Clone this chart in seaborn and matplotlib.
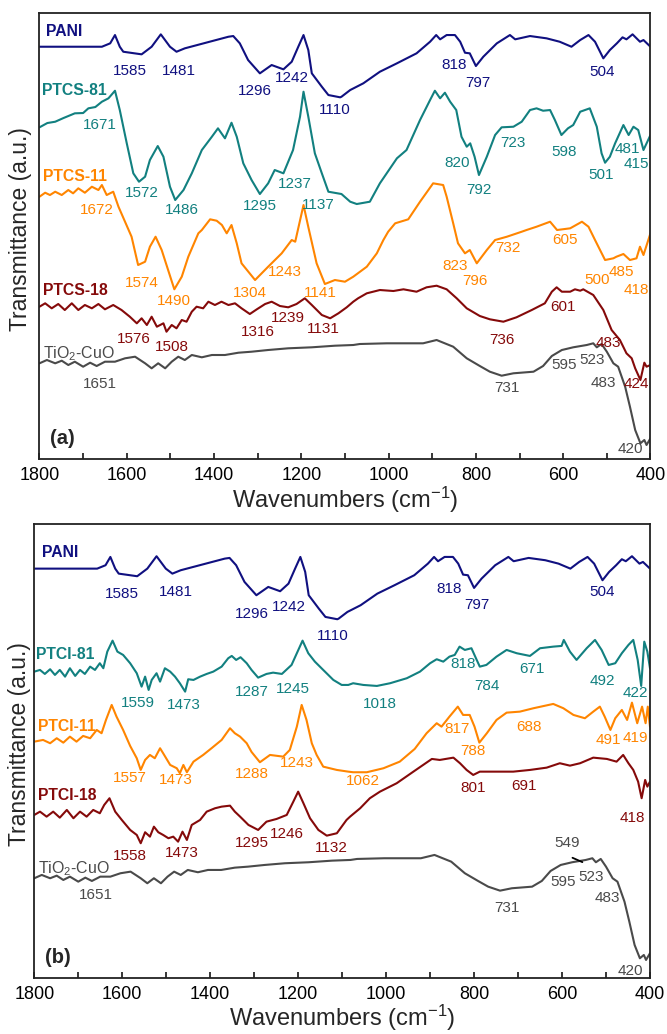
import numpy as np
import pandas as pd
import matplotlib
matplotlib.use("Agg")
import matplotlib.pyplot as plt
import seaborn as sns
from matplotlib.ticker import MultipleLocator

# ---------------- data (wavenumber cm-1, transmittance a.u.) ----------------
pani_w = [1800, 1657, 1638, 1627, 1616, 1608, 1566, 1543, 1522, 1501, 1486, 1467, 1367, 1356, 1341, 1322,
          1295, 1268, 1241, 1222, 1207, 1195, 1184, 1176, 1153, 1138, 1111, 1108, 1088, 1058, 1020, 981,
          936, 905, 891, 882, 867, 848, 836, 825, 814, 800, 783, 752, 722, 710, 676, 638, 608, 581, 561,
          542, 527, 508, 493, 477, 464, 455, 441, 424, 416, 400]
pani_t = [412.3, 412.3, 415.7, 424, 412.3, 407.3, 404.7, 412.3, 424.7, 412.3, 407.3, 410.7, 422.3, 423, 415.7, 399,
          385.7, 394, 389.7, 397.3, 412.3, 424, 409, 385.7, 372.3, 364, 361.7, 362.3, 369, 375.7, 387.3, 395.7,
          405.7, 417.3, 424, 419.7, 424, 424, 417.3, 406.3, 405.7, 393, 402.3, 415.7, 424, 419.7, 423, 420.7, 417.3, 412.3, 419,
          424, 417.3, 400.7, 409, 415.7, 421.7, 419.7, 424.7, 417.3, 419, 412.3]

ptcs81_w = [1800, 1782, 1764, 1745, 1719, 1700, 1688, 1672, 1657, 1642, 1627, 1616, 1600, 1585, 1572, 1558, 1547, 1529,
            1516, 1501, 1489, 1470, 1451, 1428, 1405, 1391, 1375, 1360, 1348, 1333, 1314, 1295, 1276, 1261,
            1241, 1219, 1203, 1195, 1184, 1169, 1153, 1138, 1108, 1088, 1073, 1043, 1020, 981, 959, 928, 905,
            894, 882, 871, 859, 845, 833, 821, 813, 803, 793, 775, 756, 741, 714, 695, 676, 661, 646, 630, 619,
            604, 589, 577, 561, 539, 523, 512, 504, 493, 481, 462, 450, 439, 428, 416, 400]
ptcs81_t = [331.7, 336, 337.3, 341, 345.7, 346, 350.7, 352, 357.3, 360.7, 368.3, 349, 315.7, 285.7, 277.3, 282.3, 299, 313,
            302.3, 272.3, 259, 269, 285.7, 309, 322.3, 330.7, 320.7, 336.3, 322.3, 295.7, 279, 265, 275.7, 289,
            285.7, 309, 342.3, 367.3, 342.3, 305.7, 285.7, 267.3, 265, 257.3, 255, 257.3, 275.7, 300.7, 309, 339, 359,
            368.3, 360.7, 366.3, 357.3, 349, 322.3, 312.3, 315.7, 302.3, 284, 302.3, 324, 331.7, 332.3, 337.3, 349, 350.7, 348.3, 349, 339,
            324, 330.7, 334, 347.3, 350.7, 332.3, 305.7, 296.3, 302.3, 315.7, 334, 324, 332.3, 329, 309, 324]

ptcs11_w = [1800, 1787, 1776, 1764, 1749, 1734, 1723, 1711, 1696, 1680, 1665, 1657, 1646, 1631, 1619, 1589, 1574, 1558,
            1547, 1534, 1520, 1491, 1474, 1459, 1436, 1428, 1409, 1394, 1382, 1371, 1360, 1348, 1337, 1306, 1276,
            1245, 1222, 1214, 1195, 1184, 1165, 1146, 1123, 1100, 1081, 1050, 1027, 1012, 1001, 985, 955, 928,
            898, 875, 867, 852, 841, 825, 814, 798, 775, 756, 729, 695, 684, 661, 630, 614, 584, 557, 542, 527,
            504, 485, 478, 462, 447, 432, 424, 416, 400]
ptcs11_t = [262.3, 266.3, 264, 267.3, 264, 269, 265.7, 270.7, 266.3, 272.3, 269, 274, 264, 267.3, 252.3, 222.3, 194, 197.3,
            212.3, 222.3, 209, 169.7, 182.3, 202.3, 225.7, 229, 239.7, 238.3, 234, 225.7, 234, 215.7, 195.7, 179, 192.3,
            205.7, 219, 217.3, 254, 232, 195.7, 175, 179, 177.3, 182.3, 192.3, 205.7, 219, 227.3, 235.7, 239.7, 257.3,
            275.7, 274, 262.3, 235.7, 215.7, 205.7, 209, 195.7, 209, 219, 222.3, 227.3, 229, 232.3, 237.3, 229, 230.7, 237.3, 232.3, 219,
            199, 200.7, 202.3, 205, 199, 200.7, 212.3, 204, 225.7]

ptcs18_w = [1800, 1787, 1772, 1757, 1742, 1726, 1711, 1696, 1680, 1665, 1650, 1631, 1612, 1593, 1577, 1566, 1554,
            1543, 1531, 1516, 1509, 1497, 1486, 1474, 1463, 1451, 1440, 1425, 1413, 1398, 1383, 1367, 1352, 1337,
            1318, 1302, 1283, 1268, 1249, 1230, 1211, 1192, 1176, 1153, 1134, 1115, 1096, 1081, 1070, 1050, 1020,
            989, 966, 936, 913, 890, 867, 844, 821, 791, 768, 737, 707, 672, 642, 626, 615, 603, 584, 573, 561,
            554, 531, 508, 489, 470, 455, 443, 435, 423, 414, 409, 400]
ptcs18_t = [152.3, 155.7, 150.7, 155, 149, 155.7, 149, 154, 150.7, 155, 149.7, 154, 149, 142.3, 135.7, 140.7, 134,
            142.3, 132.3, 135.7, 127.3, 134, 130.7, 139, 137.3, 147.3, 152.3, 150.7, 157.3, 154, 157.3, 154, 155.7, 150.7,
            145, 149.7, 155, 157.3, 153, 151.7, 155, 160.7, 154, 144, 140.7, 145.7, 151.7, 157.3, 160.7, 165.7, 169,
            168, 169.7, 167.3, 171.7, 173.3, 169.7, 160.7, 150.7, 143, 139.7, 137.3, 141.7, 149, 155.7, 167.3, 171.7, 167.3, 167.3, 169.7, 168.3,
            169.7, 164, 149, 129, 119, 105.7, 100.7, 90.7, 79, 96.3, 92.3, 94]

tio2_w = [1800, 1783, 1764, 1749, 1734, 1719, 1700, 1684, 1669, 1650, 1627, 1604, 1581, 1558, 1543, 1528, 1512,
          1497, 1482, 1467, 1451, 1428, 1405, 1375, 1344, 1314, 1276, 1230, 1176, 1123, 1081, 1066, 1004, 921,
          890, 852, 821, 791, 768, 741, 714, 668, 646, 626, 603, 577, 546, 531, 523, 512, 500, 485, 474, 458,
          447, 435, 423, 414, 409, 400]
tio2_t = [95.7, 99, 95.7, 98.3, 94, 97.3, 92.3, 96.3, 93, 97.3, 97.3, 100.7, 102.3, 95.7, 90.7, 95.7, 90.7,
          97.3, 102.3, 99, 104, 101.7, 104, 104, 106.3, 107.3, 109, 110.7, 111.7, 113.3, 114, 115, 115.7, 115.7,
          119, 112.3, 100.7, 93, 87.3, 83.3, 85.7, 87.3, 93, 103, 109, 111.7, 114, 115.7, 111.7, 115, 107.3, 95.7, 92.3, 72.3,
          52.3, 29, 15.7, 19, 14, 20.7]

ptci81_w = [1800, 1787, 1776, 1764, 1753, 1742, 1730, 1719, 1707, 1696, 1685, 1673, 1662, 1651, 1643, 1634, 1622,
            1611, 1598, 1582, 1567, 1556, 1548, 1540, 1533, 1522, 1514, 1503, 1491, 1480, 1469, 1457, 1450, 1438,
            1423, 1408, 1393, 1374, 1359, 1351, 1341, 1331, 1317, 1306, 1291, 1272, 1257, 1237, 1215, 1203, 1190,
            1177, 1162, 1143, 1120, 1101, 1086, 1075, 1052, 1021, 991, 953, 923, 900, 885, 870, 856, 844, 833,
            821, 806, 794, 787, 772, 749, 726, 703, 673, 650, 620, 601, 596, 582, 567, 544, 525, 510, 494, 479,
            464, 449, 438, 428, 420, 413, 406, 400]
ptci81_t = [306.3, 308, 304, 308.7, 303, 308, 301.3, 309.7, 302, 308, 304, 311.3, 308, 314.7, 309.7, 326.3, 337.3,
            326.3, 323, 314.7, 304.7, 291.3, 301.3, 288, 298, 304.7, 296.3, 309.7, 306.3, 301.3, 294.7, 286.3, 298.7, 298,
            301.3, 304, 306.3, 311.3, 319.7, 322, 318, 320.7, 314.7, 308, 300.3, 304, 305.3, 304, 313, 324.7, 337.3,
            324.7, 316.3, 308, 298, 293, 293, 294.7, 293, 292, 294.7, 299.7, 306.3, 314.7, 318.7, 316.3, 321.3, 323, 331.3,
            328, 329.7, 318, 311.3, 313, 321.3, 328, 324.7, 322, 329.7, 331.3, 332, 338, 326.3, 318, 329.7, 338, 328, 313, 314.7,
            324.7, 333, 338, 318, 292, 336.3, 326.3, 309.7]

ptci11_w = [1800, 1780, 1764, 1749, 1734, 1719, 1704, 1689, 1673, 1658, 1647, 1637, 1624, 1613, 1598, 1582, 1567,
            1558, 1548, 1537, 1526, 1514, 1507, 1491, 1476, 1469, 1461, 1453, 1438, 1416, 1397, 1374, 1355, 1344,
            1332, 1317, 1306, 1287, 1264, 1234, 1219, 1203, 1192, 1181, 1169, 1158, 1143, 1112, 1086, 1075, 1044,
            1006, 969, 935, 908, 885, 874, 856, 837, 825, 810, 799, 788, 771, 749, 726, 696, 665, 620, 597, 574,
            548, 529, 514, 503, 490, 479, 464, 452, 441, 429, 418, 410, 405, 400]
ptci11_t = [236.3, 238, 234.7, 239.7, 235.3, 241.3, 236.3, 242, 239.7, 248, 244.7, 258, 273, 261.3, 248, 232, 219.7,
            208, 218, 223, 219.7, 229.7, 224.7, 213, 209.7, 204.7, 213, 205.7, 216.3, 223, 229.7, 238, 249.7, 244.7,
            241.3, 234.7, 226, 215.7, 223, 221.3, 228, 251.3, 273, 258, 234.7, 223, 211.3, 208, 206.3, 205.7, 205.7,
            209.7, 216.3, 229, 244.7, 254.7, 251.3, 261.3, 271.3, 263, 263, 251.3, 235.3, 244.7, 258, 265.3, 266.3, 269.7, 274, 269.7, 263,
            259.7, 266.3, 271.3, 261.3, 248, 259.7, 268, 258, 275.3, 254.7, 271.3, 254.7, 271.3, 251.3]

ptci18_w = [1800, 1787, 1772, 1757, 1742, 1726, 1711, 1696, 1681, 1666, 1651, 1641, 1629, 1616, 1601, 1582, 1567,
            1558, 1548, 1537, 1528, 1518, 1507, 1495, 1484, 1473, 1463, 1453, 1442, 1423, 1408, 1389, 1374, 1355,
            1344, 1332, 1313, 1291, 1272, 1249, 1226, 1211, 1200, 1188, 1173, 1154, 1135, 1112, 1090, 1082, 1059,
            1037, 1014, 976, 938, 896, 878, 847, 832, 817, 802, 787, 749, 711, 673, 635, 605, 582, 559, 529, 498,
            476, 461, 449, 438, 427, 419, 411, 406, 400]
ptci18_t = [163, 166.3, 161.3, 166.3, 160.3, 168, 159.7, 166.3, 161.3, 168, 164.7, 173, 179.7, 166.3, 158, 148, 143,
            134.7, 145.7, 141.3, 151.3, 145.7, 143, 139.7, 141.3, 136.3, 146.3, 138, 153, 158, 166.3, 169.7, 171.3, 172.3,
            166.3, 161.3, 153, 148, 156.3, 159, 163, 176.3, 186.3, 174.7, 159.7, 148, 142.3, 144.7, 158, 161.3, 169.7,
            179.7, 186.3, 194.7, 206.3, 219, 218, 220.3, 214.7, 208, 203, 206.3, 206.3, 206.3, 208, 210.3, 214.7, 212.3, 214.7, 220.3, 219,
            216.3, 223, 214.7, 208, 196.3, 179.7, 198, 191.3, 196.3]

# peak annotations: (text, wavenumber, transmittance)
ann_a = {
    "PANI": [("1585", 1593, 388.3), ("1481", 1480, 388.3), ("1296", 1306, 368), ("1242", 1222, 380.7),
             ("1110", 1123, 349), ("818", 850, 394), ("797", 795, 375.7), ("504", 510, 386.7)],
    "PTCS-81": [("1671", 1661, 334), ("1572", 1566, 265.7), ("1486", 1474, 249), ("1295", 1295, 253),
                ("1237", 1216, 275), ("1137", 1161, 254), ("820", 843, 295.7), ("792", 792, 269),
                ("723", 714, 315.7), ("598", 598, 307.3), ("501", 514, 284), ("481", 454, 309.7), ("415", 433, 295)],
    "PTCS-11": [("1672", 1669, 249), ("1574", 1566, 175.7), ("1490", 1491, 158.3), ("1304", 1318, 165.7),
                ("1243", 1237, 186.7), ("1141", 1157, 165.7), ("823", 848, 193), ("796", 802, 178.3),
                ("732", 726, 210.7), ("605", 596, 219), ("500", 522, 179), ("485", 466, 187.3), ("418", 433, 169)],
    "PTCS-18": [("1576", 1585, 119.7), ("1508", 1496, 111.7), ("1316", 1300, 127.3), ("1239", 1230, 140.7),
                ("1131", 1150, 129.7), ("736", 740, 119), ("601", 601, 151.7), ("483", 497, 116.3), ("424", 433, 75)],
    "TiO2-CuO": [("1651", 1661, 75), ("731", 728, 70.7), ("595", 598, 94), ("523", 533, 99),
                 ("483", 509, 76.3), ("420", 445, 9.7)],
}
ann_b = {
    "PANI": [("1585", 1601, 384), ("1481", 1478, 386.3), ("1296", 1306, 363.7), ("1242", 1222, 370.7),
             ("1110", 1122, 342), ("818", 856, 389), ("797", 793, 373), ("504", 508, 386.3)],
    "PTCI-81": [("1559", 1564, 274.7), ("1473", 1460, 273), ("1287", 1306, 286.3), ("1245", 1211, 288.7),
                ("1018", 1014, 274), ("818", 826, 314), ("784", 770, 292.3), ("671", 669, 309),
                ("492", 508, 297.3), ("422", 434, 284.7)],
    "PTCI-11": [("1557", 1582, 199.7), ("1473", 1478, 198), ("1288", 1306, 203.7), ("1243", 1203, 214.7),
                ("1062", 1053, 197), ("817", 838, 248.7), ("788", 802, 227), ("688", 674, 251.3),
                ("491", 495, 238), ("419", 434, 239.7)],
    "PTCI-18": [("1558", 1582, 122), ("1473", 1465, 125.3), ("1295", 1306, 134.7), ("1246", 1225, 143.7),
                ("1132", 1124, 130.3), ("801", 802, 189.7), ("691", 687, 192.3), ("418", 440, 160.3)],
    "TiO2-CuO": [("1651", 1660, 83), ("731", 726, 70.3), ("549", 588, 134.7), ("595", 597, 95.7),
                 ("523", 533, 100.7), ("483", 498, 80.3), ("420", 444, 7)],
}
# series-name labels: (name, wavenumber of left edge, transmittance)
names_a = [("PANI", 1785, 427.3), ("PTCS-81", 1795, 369), ("PTCS-11", 1791, 282.3),
           ("PTCS-18", 1791, 169), ("TiO$_2$-CuO", 1791, 105.7)]
names_b = [("PANI", 1783, 425.7), ("PTCI-81", 1795, 323), ("PTCI-11", 1791, 251.3),
           ("PTCI-18", 1791, 182.3), ("TiO$_2$-CuO", 1791, 109.7)]

colors = {"PANI": "#101080", "PTCS-81": "#128080", "PTCI-81": "#128080",
          "PTCS-11": "#ff8500", "PTCI-11": "#ff8500", "PTCS-18": "#850a0a", "PTCI-18": "#850a0a",
          "TiO2-CuO": "#4a4a4a"}

# ---------------- plotting ----------------
sns.set_theme(style="ticks")
plt.rcParams["font.family"] = ["Liberation Sans", "DejaVu Sans"]
plt.rcParams["mathtext.default"] = "regular"

fig = plt.figure(figsize=(6.67, 10.34), dpi=100)
ax_a = fig.add_axes([0.0592, 0.5561, 0.9160, 0.4310])
ax_b = fig.add_axes([0.0514, 0.0542, 0.9231, 0.4391])

series_a = [("PANI", pani_w, pani_t, 0.0), ("PTCS-81", ptcs81_w, ptcs81_t, 0.0),
            ("PTCS-11", ptcs11_w, ptcs11_t, 0.0), ("PTCS-18", ptcs18_w, ptcs18_t, 0.0),
            ("TiO2-CuO", tio2_w, tio2_t, 0.0)]
series_b = [("PANI", pani_w, pani_t, -3.0), ("PTCI-81", ptci81_w, ptci81_t, 0.0),
            ("PTCI-11", ptci11_w, ptci11_t, 0.0), ("PTCI-18", ptci18_w, ptci18_t, 0.0),
            ("TiO2-CuO", tio2_w, tio2_t, 4.0)]


def draw(ax, series, ann, names, ylim, panel_tag, ylab_x):
    for name, w, t, off in series:
        df = pd.DataFrame({"w": w, "t": np.asarray(t) + off})
        sns.lineplot(data=df, x="w", y="t", ax=ax, color=colors[name], lw=1.5,
                     sort=False, estimator=None)
        for txt, x, y in ann[name]:
            ax.text(x, y, txt, color=colors[name], fontsize=11, ha="center", va="center")
    for (nm, x, y), (key, *_rest) in zip(names, series):
        is_tio = "TiO" in nm
        ax.text(x, y, nm, color=colors[key], fontsize=11.5 if is_tio else 11.3,
                fontweight="normal" if is_tio else "bold", ha="left", va="center")
    ax.text(0.017, 0.045, panel_tag, transform=ax.transAxes, fontsize=14.5, fontweight="bold",
            ha="left", va="center")
    ax.set_xlim(1800, 400)
    ax.set_ylim(*ylim)
    ax.set_yticks([])
    ax.xaxis.set_major_locator(MultipleLocator(200))
    ax.xaxis.set_minor_locator(MultipleLocator(100))
    ax.tick_params(axis="x", which="both", direction="in", length=4, width=1.1, labelsize=13, pad=6,
                   colors="black", bottom=True, top=False)
    for s in ax.spines.values():
        s.set_linewidth(1.3)
        s.set_color("#222222")
    ax.set_xlabel("Wavenumbers (cm$^{-1}$)", fontsize=17, labelpad=0)
    ax.set_ylabel("Transmittance (a.u.)", fontsize=16.5)
    ax.yaxis.set_label_coords(ylab_x, 0.515)


draw(ax_a, series_a, ann_a, names_a, (0, 445.7), "(a)", -0.013)
draw(ax_b, series_b, ann_b, names_b, (0, 454), "(b)", -0.006)

# small pointer line for the 549 band in panel (b)
ax_b.annotate("", xy=(548, 114.7), xytext=(582, 121.3),
              arrowprops=dict(arrowstyle="-", color="black", lw=1.3))

fig.savefig("out.png", dpi=100)
